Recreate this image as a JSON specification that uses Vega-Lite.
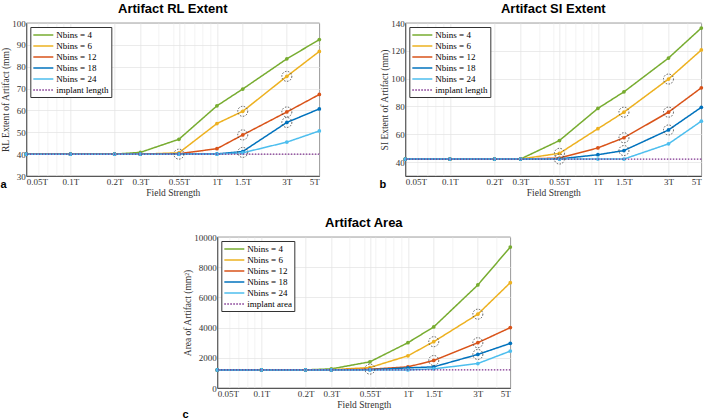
{
  "$schema": "https://vega.github.io/schema/vega-lite/v6.json",
  "padding": {"left": 0, "top": 2, "right": 0, "bottom": 0},
  "background": "white",
  "datasets": {
    "rl": [
      {"f": 0.05, "s": "Nbins = 4", "v": 40}, {"f": 0.1, "s": "Nbins = 4", "v": 40}, {"f": 0.2, "s": "Nbins = 4", "v": 40}, {"f": 0.3, "s": "Nbins = 4", "v": 40.8}, {"f": 0.55, "s": "Nbins = 4", "v": 46.8}, {"f": 1, "s": "Nbins = 4", "v": 62.1}, {"f": 1.5, "s": "Nbins = 4", "v": 69.8}, {"f": 3, "s": "Nbins = 4", "v": 83.6}, {"f": 5, "s": "Nbins = 4", "v": 92.4},
      {"f": 0.05, "s": "Nbins = 6", "v": 40}, {"f": 0.1, "s": "Nbins = 6", "v": 40}, {"f": 0.2, "s": "Nbins = 6", "v": 40}, {"f": 0.3, "s": "Nbins = 6", "v": 40}, {"f": 0.55, "s": "Nbins = 6", "v": 40.6}, {"f": 1, "s": "Nbins = 6", "v": 54}, {"f": 1.5, "s": "Nbins = 6", "v": 59.6}, {"f": 3, "s": "Nbins = 6", "v": 75.6}, {"f": 5, "s": "Nbins = 6", "v": 87},
      {"f": 0.05, "s": "Nbins = 12", "v": 40}, {"f": 0.1, "s": "Nbins = 12", "v": 40}, {"f": 0.2, "s": "Nbins = 12", "v": 40}, {"f": 0.3, "s": "Nbins = 12", "v": 40}, {"f": 0.55, "s": "Nbins = 12", "v": 40.2}, {"f": 1, "s": "Nbins = 12", "v": 42.5}, {"f": 1.5, "s": "Nbins = 12", "v": 48.8}, {"f": 3, "s": "Nbins = 12", "v": 59.3}, {"f": 5, "s": "Nbins = 12", "v": 67.3},
      {"f": 0.05, "s": "Nbins = 18", "v": 40}, {"f": 0.1, "s": "Nbins = 18", "v": 40}, {"f": 0.2, "s": "Nbins = 18", "v": 40}, {"f": 0.3, "s": "Nbins = 18", "v": 40}, {"f": 0.55, "s": "Nbins = 18", "v": 40}, {"f": 1, "s": "Nbins = 18", "v": 40.1}, {"f": 1.5, "s": "Nbins = 18", "v": 41.2}, {"f": 3, "s": "Nbins = 18", "v": 54.5}, {"f": 5, "s": "Nbins = 18", "v": 60.7},
      {"f": 0.05, "s": "Nbins = 24", "v": 40}, {"f": 0.1, "s": "Nbins = 24", "v": 40}, {"f": 0.2, "s": "Nbins = 24", "v": 40}, {"f": 0.3, "s": "Nbins = 24", "v": 40}, {"f": 0.55, "s": "Nbins = 24", "v": 40}, {"f": 1, "s": "Nbins = 24", "v": 40}, {"f": 1.5, "s": "Nbins = 24", "v": 40.6}, {"f": 3, "s": "Nbins = 24", "v": 45.5}, {"f": 5, "s": "Nbins = 24", "v": 50.6}
    ],
    "rl_imp": [{"s": "implant length", "v": 40}],
    "rl_hl": [{"f": 0.55, "v": 40}, {"f": 1.5, "v": 59.6}, {"f": 1.5, "v": 48.8}, {"f": 1.5, "v": 40.8}, {"f": 3, "v": 75.6}, {"f": 3, "v": 59.3}, {"f": 3, "v": 54.5}],
    "si": [
      {"f": 0.05, "s": "Nbins = 4", "v": 42.2}, {"f": 0.1, "s": "Nbins = 4", "v": 42.2}, {"f": 0.2, "s": "Nbins = 4", "v": 42.2}, {"f": 0.3, "s": "Nbins = 4", "v": 42.2}, {"f": 0.55, "s": "Nbins = 4", "v": 55.5}, {"f": 1, "s": "Nbins = 4", "v": 78.6}, {"f": 1.5, "s": "Nbins = 4", "v": 90.5}, {"f": 3, "s": "Nbins = 4", "v": 114.8}, {"f": 5, "s": "Nbins = 4", "v": 136.4},
      {"f": 0.05, "s": "Nbins = 6", "v": 42.2}, {"f": 0.1, "s": "Nbins = 6", "v": 42.2}, {"f": 0.2, "s": "Nbins = 6", "v": 42.2}, {"f": 0.3, "s": "Nbins = 6", "v": 42.2}, {"f": 0.55, "s": "Nbins = 6", "v": 46.3}, {"f": 1, "s": "Nbins = 6", "v": 64}, {"f": 1.5, "s": "Nbins = 6", "v": 75.9}, {"f": 3, "s": "Nbins = 6", "v": 99.7}, {"f": 5, "s": "Nbins = 6", "v": 120.6},
      {"f": 0.05, "s": "Nbins = 12", "v": 42.2}, {"f": 0.1, "s": "Nbins = 12", "v": 42.2}, {"f": 0.2, "s": "Nbins = 12", "v": 42.2}, {"f": 0.3, "s": "Nbins = 12", "v": 42.2}, {"f": 0.55, "s": "Nbins = 12", "v": 42.9}, {"f": 1, "s": "Nbins = 12", "v": 50.2}, {"f": 1.5, "s": "Nbins = 12", "v": 57.5}, {"f": 3, "s": "Nbins = 12", "v": 75.9}, {"f": 5, "s": "Nbins = 12", "v": 93.4},
      {"f": 0.05, "s": "Nbins = 18", "v": 42.2}, {"f": 0.1, "s": "Nbins = 18", "v": 42.2}, {"f": 0.2, "s": "Nbins = 18", "v": 42.2}, {"f": 0.3, "s": "Nbins = 18", "v": 42.2}, {"f": 0.55, "s": "Nbins = 18", "v": 42.3}, {"f": 1, "s": "Nbins = 18", "v": 45.3}, {"f": 1.5, "s": "Nbins = 18", "v": 48.3}, {"f": 3, "s": "Nbins = 18", "v": 63.1}, {"f": 5, "s": "Nbins = 18", "v": 79.4},
      {"f": 0.05, "s": "Nbins = 24", "v": 42.2}, {"f": 0.1, "s": "Nbins = 24", "v": 42.2}, {"f": 0.2, "s": "Nbins = 24", "v": 42.2}, {"f": 0.3, "s": "Nbins = 24", "v": 42.2}, {"f": 0.55, "s": "Nbins = 24", "v": 42.2}, {"f": 1, "s": "Nbins = 24", "v": 42.2}, {"f": 1.5, "s": "Nbins = 24", "v": 42.2}, {"f": 3, "s": "Nbins = 24", "v": 53.1}, {"f": 5, "s": "Nbins = 24", "v": 69.4}
    ],
    "si_imp": [{"s": "implant length", "v": 42.2}],
    "si_hl": [{"f": 0.55, "v": 46.3}, {"f": 0.55, "v": 42.2}, {"f": 1.5, "v": 75.9}, {"f": 1.5, "v": 57.5}, {"f": 1.5, "v": 48.3}, {"f": 3, "v": 99.7}, {"f": 3, "v": 75.9}, {"f": 3, "v": 63.1}],
    "ar": [
      {"f": 0.05, "s": "Nbins = 4", "v": 1200}, {"f": 0.1, "s": "Nbins = 4", "v": 1200}, {"f": 0.2, "s": "Nbins = 4", "v": 1200}, {"f": 0.3, "s": "Nbins = 4", "v": 1267}, {"f": 0.55, "s": "Nbins = 4", "v": 1733}, {"f": 1, "s": "Nbins = 4", "v": 3000}, {"f": 1.5, "s": "Nbins = 4", "v": 4044}, {"f": 3, "s": "Nbins = 4", "v": 6822}, {"f": 5, "s": "Nbins = 4", "v": 9333},
      {"f": 0.05, "s": "Nbins = 6", "v": 1200}, {"f": 0.1, "s": "Nbins = 6", "v": 1200}, {"f": 0.2, "s": "Nbins = 6", "v": 1200}, {"f": 0.3, "s": "Nbins = 6", "v": 1210}, {"f": 0.55, "s": "Nbins = 6", "v": 1356}, {"f": 1, "s": "Nbins = 6", "v": 2133}, {"f": 1.5, "s": "Nbins = 6", "v": 3067}, {"f": 3, "s": "Nbins = 6", "v": 4889}, {"f": 5, "s": "Nbins = 6", "v": 6978},
      {"f": 0.05, "s": "Nbins = 12", "v": 1200}, {"f": 0.1, "s": "Nbins = 12", "v": 1200}, {"f": 0.2, "s": "Nbins = 12", "v": 1200}, {"f": 0.3, "s": "Nbins = 12", "v": 1200}, {"f": 0.55, "s": "Nbins = 12", "v": 1244}, {"f": 1, "s": "Nbins = 12", "v": 1400}, {"f": 1.5, "s": "Nbins = 12", "v": 1822}, {"f": 3, "s": "Nbins = 12", "v": 3000}, {"f": 5, "s": "Nbins = 12", "v": 4000},
      {"f": 0.05, "s": "Nbins = 18", "v": 1200}, {"f": 0.1, "s": "Nbins = 18", "v": 1200}, {"f": 0.2, "s": "Nbins = 18", "v": 1200}, {"f": 0.3, "s": "Nbins = 18", "v": 1200}, {"f": 0.55, "s": "Nbins = 18", "v": 1210}, {"f": 1, "s": "Nbins = 18", "v": 1333}, {"f": 1.5, "s": "Nbins = 18", "v": 1400}, {"f": 3, "s": "Nbins = 18", "v": 2222}, {"f": 5, "s": "Nbins = 18", "v": 2956},
      {"f": 0.05, "s": "Nbins = 24", "v": 1200}, {"f": 0.1, "s": "Nbins = 24", "v": 1200}, {"f": 0.2, "s": "Nbins = 24", "v": 1200}, {"f": 0.3, "s": "Nbins = 24", "v": 1200}, {"f": 0.55, "s": "Nbins = 24", "v": 1200}, {"f": 1, "s": "Nbins = 24", "v": 1200}, {"f": 1.5, "s": "Nbins = 24", "v": 1267}, {"f": 3, "s": "Nbins = 24", "v": 1622}, {"f": 5, "s": "Nbins = 24", "v": 2444}
    ],
    "ar_imp": [{"s": "implant area", "v": 1200}],
    "ar_hl": [{"f": 0.55, "v": 1250}, {"f": 1.5, "v": 3067}, {"f": 1.5, "v": 1822}, {"f": 3, "v": 4889}, {"f": 3, "v": 3000}, {"f": 3, "v": 2222}]
  },
  "resolve": {"scale": {"color": "independent", "strokeDash": "independent"}, "legend": {"color": "independent", "strokeDash": "independent"}},
  "spacing": 19,
  "center": true,
  "vconcat": [
    {
      "resolve": {"scale": {"color": "independent", "strokeDash": "independent"}, "legend": {"color": "independent", "strokeDash": "independent"}},
      "spacing": 56,
      "hconcat": [
        {
          "title": {"text": "a", "orient": "bottom", "anchor": "start", "frame": "bounds", "offset": -18, "font": "Liberation Sans", "fontSize": 11, "fontWeight": "bold"},
          "vconcat": [
            {
              "width": 293, "height": 153,
              "title": {"text": "Artifact RL Extent"},
              "resolve": {"axis": {"x": "independent"}},
              "layer": [
                {
                  "data": {"name": "rl"},
                  "mark": {"type": "line", "strokeWidth": 1.5, "point": {"filled": true, "size": 14}},
                  "encoding": {
                    "x": {"field": "f", "type": "quantitative", "scale": {"type": "log", "domain": [0.05, 5], "nice": false}, "axis": {"values": [0.05, 0.1, 0.2, 0.3, 0.55, 1, 1.5, 3, 5], "labelExpr": "datum.value + 'T'", "title": "Field Strength", "grid": true}},
                    "y": {"field": "v", "type": "quantitative", "scale": {"domain": [30, 100], "nice": false, "zero": false}, "axis": {"values": [30, 40, 50, 60, 70, 80, 90, 100], "title": "RL Extent of Artifact (mm)"}},
                    "color": {"field": "s", "type": "nominal", "scale": {"domain": ["Nbins = 4", "Nbins = 6", "Nbins = 12", "Nbins = 18", "Nbins = 24", "implant length"], "range": ["#77AC30", "#EDB120", "#D95319", "#0072BD", "#4DBEEE", "#7E2F8E"]}, "legend": {"title": null}},
                    "strokeDash": {"field": "s", "type": "nominal", "scale": {"domain": ["Nbins = 4", "Nbins = 6", "Nbins = 12", "Nbins = 18", "Nbins = 24", "implant length"], "range": [[1, 0], [1, 0], [1, 0], [1, 0], [1, 0], [1.5, 1.5]]}, "legend": {"title": null}}
                  }
                },
                {
                  "data": {"name": "rl_imp"},
                  "mark": {"type": "rule", "strokeWidth": 1.2},
                  "encoding": {
                    "y": {"field": "v", "type": "quantitative", "scale": {"domain": [30, 100], "nice": false, "zero": false}, "axis": {"values": [30, 40, 50, 60, 70, 80, 90, 100], "title": "RL Extent of Artifact (mm)"}},
                    "color": {"field": "s", "type": "nominal", "scale": {"domain": ["Nbins = 4", "Nbins = 6", "Nbins = 12", "Nbins = 18", "Nbins = 24", "implant length"], "range": ["#77AC30", "#EDB120", "#D95319", "#0072BD", "#4DBEEE", "#7E2F8E"]}, "legend": {"title": null}},
                    "strokeDash": {"field": "s", "type": "nominal", "scale": {"domain": ["Nbins = 4", "Nbins = 6", "Nbins = 12", "Nbins = 18", "Nbins = 24", "implant length"], "range": [[1, 0], [1, 0], [1, 0], [1, 0], [1, 0], [1.5, 1.5]]}, "legend": {"title": null}}
                  }
                },
                {
                  "data": {"name": "rl_hl"},
                  "mark": {"type": "point", "shape": "circle", "filled": false, "size": 100, "color": "#444444", "strokeWidth": 0.9, "strokeDash": [1.5, 1.5], "opacity": 1},
                  "encoding": {
                    "x": {"field": "f", "type": "quantitative", "scale": {"type": "log", "domain": [0.05, 5], "nice": false}, "axis": {"values": [0.06, 0.07, 0.08, 0.09, 0.4, 0.5, 0.6, 0.7, 0.8, 0.9, 2, 4], "grid": true, "gridColor": "#efefef", "labels": false, "ticks": false, "domain": false, "title": null}},
                    "y": {"field": "v", "type": "quantitative", "scale": {"domain": [30, 100], "nice": false, "zero": false}, "axis": {"values": [30, 40, 50, 60, 70, 80, 90, 100], "title": "RL Extent of Artifact (mm)"}}
                  }
                }
              ]
            }
          ]
        },
        {
          "title": {"text": "b", "orient": "bottom", "anchor": "start", "frame": "bounds", "offset": -18, "font": "Liberation Sans", "fontSize": 11, "fontWeight": "bold"},
          "vconcat": [
            {
              "width": 296, "height": 153,
              "title": {"text": "Artifact SI Extent"},
              "resolve": {"axis": {"x": "independent"}},
              "layer": [
                {
                  "data": {"name": "si"},
                  "mark": {"type": "line", "strokeWidth": 1.5, "point": {"filled": true, "size": 14}},
                  "encoding": {
                    "x": {"field": "f", "type": "quantitative", "scale": {"type": "log", "domain": [0.05, 5], "nice": false}, "axis": {"values": [0.05, 0.1, 0.2, 0.3, 0.55, 1, 1.5, 3, 5], "labelExpr": "datum.value + 'T'", "title": "Field Strength", "grid": true}},
                    "y": {"field": "v", "type": "quantitative", "scale": {"domain": [30, 140], "nice": false, "zero": false}, "axis": {"values": [40, 60, 80, 100, 120, 140], "title": "SI Extent of Artifact (mm)"}},
                    "color": {"field": "s", "type": "nominal", "scale": {"domain": ["Nbins = 4", "Nbins = 6", "Nbins = 12", "Nbins = 18", "Nbins = 24", "implant length"], "range": ["#77AC30", "#EDB120", "#D95319", "#0072BD", "#4DBEEE", "#7E2F8E"]}, "legend": {"title": null}},
                    "strokeDash": {"field": "s", "type": "nominal", "scale": {"domain": ["Nbins = 4", "Nbins = 6", "Nbins = 12", "Nbins = 18", "Nbins = 24", "implant length"], "range": [[1, 0], [1, 0], [1, 0], [1, 0], [1, 0], [1.5, 1.5]]}, "legend": {"title": null}}
                  }
                },
                {
                  "data": {"name": "si_imp"},
                  "mark": {"type": "rule", "strokeWidth": 1.2},
                  "encoding": {
                    "y": {"field": "v", "type": "quantitative", "scale": {"domain": [30, 140], "nice": false, "zero": false}, "axis": {"values": [40, 60, 80, 100, 120, 140], "title": "SI Extent of Artifact (mm)"}},
                    "color": {"field": "s", "type": "nominal", "scale": {"domain": ["Nbins = 4", "Nbins = 6", "Nbins = 12", "Nbins = 18", "Nbins = 24", "implant length"], "range": ["#77AC30", "#EDB120", "#D95319", "#0072BD", "#4DBEEE", "#7E2F8E"]}, "legend": {"title": null}},
                    "strokeDash": {"field": "s", "type": "nominal", "scale": {"domain": ["Nbins = 4", "Nbins = 6", "Nbins = 12", "Nbins = 18", "Nbins = 24", "implant length"], "range": [[1, 0], [1, 0], [1, 0], [1, 0], [1, 0], [1.5, 1.5]]}, "legend": {"title": null}}
                  }
                },
                {
                  "data": {"name": "si_hl"},
                  "mark": {"type": "point", "shape": "circle", "filled": false, "size": 100, "color": "#444444", "strokeWidth": 0.9, "strokeDash": [1.5, 1.5], "opacity": 1},
                  "encoding": {
                    "x": {"field": "f", "type": "quantitative", "scale": {"type": "log", "domain": [0.05, 5], "nice": false}, "axis": {"values": [0.06, 0.07, 0.08, 0.09, 0.4, 0.5, 0.6, 0.7, 0.8, 0.9, 2, 4], "grid": true, "gridColor": "#efefef", "labels": false, "ticks": false, "domain": false, "title": null}},
                    "y": {"field": "v", "type": "quantitative", "scale": {"domain": [30, 140], "nice": false, "zero": false}, "axis": {"values": [40, 60, 80, 100, 120, 140], "title": "SI Extent of Artifact (mm)"}}
                  }
                }
              ]
            }
          ]
        }
      ]
    },
    {
      "title": {"text": "c", "orient": "bottom", "anchor": "start", "frame": "bounds", "offset": 0, "font": "Liberation Sans", "fontSize": 11, "fontWeight": "bold"},
      "resolve": {"scale": {"color": "independent", "strokeDash": "independent"}, "legend": {"color": "independent", "strokeDash": "independent"}},
      "vconcat": [
        {
          "width": 293, "height": 151,
          "title": {"text": "Artifact Area"},
          "resolve": {"axis": {"x": "independent"}},
          "layer": [
            {
              "data": {"name": "ar"},
              "mark": {"type": "line", "strokeWidth": 1.5, "point": {"filled": true, "size": 14}},
              "encoding": {
                "x": {"field": "f", "type": "quantitative", "scale": {"type": "log", "domain": [0.05, 5], "nice": false}, "axis": {"values": [0.05, 0.1, 0.2, 0.3, 0.55, 1, 1.5, 3, 5], "labelExpr": "datum.value + 'T'", "title": "Field Strength", "grid": true}},
                "y": {"field": "v", "type": "quantitative", "scale": {"domain": [0, 10000], "nice": false}, "axis": {"values": [0, 2000, 4000, 6000, 8000, 10000], "format": "d", "title": "Area of Artifact (mm²)"}},
                "color": {"field": "s", "type": "nominal", "scale": {"domain": ["Nbins = 4", "Nbins = 6", "Nbins = 12", "Nbins = 18", "Nbins = 24", "implant area"], "range": ["#77AC30", "#EDB120", "#D95319", "#0072BD", "#4DBEEE", "#7E2F8E"]}, "legend": {"title": null}},
                "strokeDash": {"field": "s", "type": "nominal", "scale": {"domain": ["Nbins = 4", "Nbins = 6", "Nbins = 12", "Nbins = 18", "Nbins = 24", "implant area"], "range": [[1, 0], [1, 0], [1, 0], [1, 0], [1, 0], [1.5, 1.5]]}, "legend": {"title": null}}
              }
            },
            {
              "data": {"name": "ar_imp"},
              "mark": {"type": "rule", "strokeWidth": 1.2},
              "encoding": {
                "y": {"field": "v", "type": "quantitative", "scale": {"domain": [0, 10000], "nice": false}, "axis": {"values": [0, 2000, 4000, 6000, 8000, 10000], "format": "d", "title": "Area of Artifact (mm²)"}},
                "color": {"field": "s", "type": "nominal", "scale": {"domain": ["Nbins = 4", "Nbins = 6", "Nbins = 12", "Nbins = 18", "Nbins = 24", "implant area"], "range": ["#77AC30", "#EDB120", "#D95319", "#0072BD", "#4DBEEE", "#7E2F8E"]}, "legend": {"title": null}},
                "strokeDash": {"field": "s", "type": "nominal", "scale": {"domain": ["Nbins = 4", "Nbins = 6", "Nbins = 12", "Nbins = 18", "Nbins = 24", "implant area"], "range": [[1, 0], [1, 0], [1, 0], [1, 0], [1, 0], [1.5, 1.5]]}, "legend": {"title": null}}
              }
            },
            {
              "data": {"name": "ar_hl"},
              "mark": {"type": "point", "shape": "circle", "filled": false, "size": 100, "color": "#444444", "strokeWidth": 0.9, "strokeDash": [1.5, 1.5], "opacity": 1},
              "encoding": {
                "x": {"field": "f", "type": "quantitative", "scale": {"type": "log", "domain": [0.05, 5], "nice": false}, "axis": {"values": [0.06, 0.07, 0.08, 0.09, 0.4, 0.5, 0.6, 0.7, 0.8, 0.9, 2, 4], "grid": true, "gridColor": "#efefef", "labels": false, "ticks": false, "domain": false, "title": null}},
                "y": {"field": "v", "type": "quantitative", "scale": {"domain": [0, 10000], "nice": false}, "axis": {"values": [0, 2000, 4000, 6000, 8000, 10000], "format": "d", "title": "Area of Artifact (mm²)"}}
              }
            }
          ]
        }
      ]
    }
  ],
  "config": {
    "view": {"stroke": "#262626", "strokeWidth": 0.7},
    "title": {"font": "Liberation Sans", "fontSize": 13, "fontWeight": "bold", "color": "#000000", "offset": 3},
    "axis": {"labelFont": "Liberation Serif, serif", "labelFontSize": 9, "labelColor": "#333333", "titleFont": "Liberation Serif, serif", "titleFontSize": 9.5, "titleFontWeight": "normal", "titleColor": "#333333", "domainColor": "#262626", "domainWidth": 0.7, "ticks": false, "gridColor": "#e2e2e2", "gridWidth": 0.7, "labelPadding": 1, "titlePadding": 1},
    "axisX": {"labelAngle": 0},
    "legend": {"orient": "top-left", "offset": 4, "fillColor": "white", "strokeColor": "#333333", "padding": 2, "labelFont": "Liberation Serif, serif", "labelFontSize": 9, "labelFontWeight": "normal", "labelColor": "#000000", "symbolType": "M-1,0H3", "symbolSize": 100, "symbolStrokeWidth": 1.5, "symbolFillColor": "transparent", "rowPadding": 0, "labelOffset": 12}
  }
}
